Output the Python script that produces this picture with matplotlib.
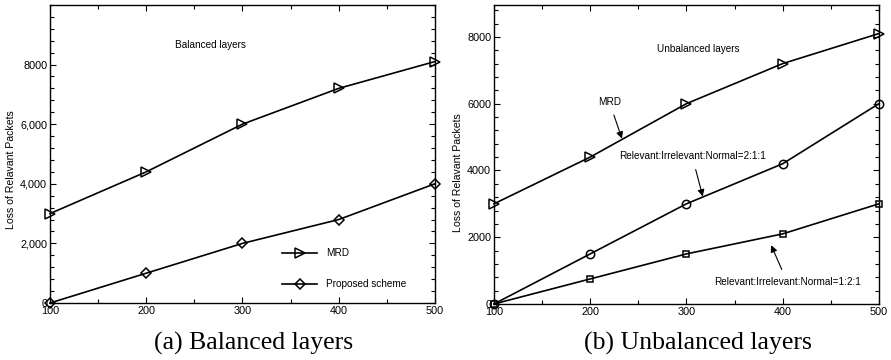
import numpy as np
import matplotlib
matplotlib.use('Agg')
import matplotlib.pyplot as plt
from matplotlib.ticker import MultipleLocator, FixedLocator, FixedFormatter

# data
x_vals = [100, 200, 300, 400, 500]
mrd_balanced = [3000, 4400, 6000, 7200, 8100]
proposed_balanced = [0, 1000, 2000, 2800, 4000]
mrd_unbalanced = [3000, 4400, 6000, 7200, 8100]
ratio_211 = [0, 1500, 3000, 4200, 6000]
ratio_121 = [0, 750, 1500, 2100, 3000]

left_ytick_labels = ['0', '2,000', '4,000', '6,000', '8000']
right_ytick_labels = ['0', '2000', '4000', '6000', '8000']
ylabel = 'Loss of Relavant Packets'

plt.rcParams['font.family'] = ['Liberation Sans', 'DejaVu Sans']

fig = plt.figure(figsize=(8.91, 3.6), dpi=100)
ax1 = fig.add_axes([0.0561, 0.1583, 0.432, 0.828])
ax2 = fig.add_axes([0.5544, 0.1556, 0.432, 0.830])

lw = 1.2
fs = 7.2


def style_axis(ax, ymax, labels):
    ax.set_xlim(100, 500)
    ax.set_ylim(0, ymax)
    ax.xaxis.set_major_locator(FixedLocator(x_vals))
    ax.xaxis.set_minor_locator(MultipleLocator(50))
    ax.yaxis.set_major_locator(FixedLocator([0, 2000, 4000, 6000, 8000]))
    ax.yaxis.set_major_formatter(FixedFormatter(labels))
    ax.yaxis.set_minor_locator(MultipleLocator(400))
    ax.tick_params(which='both', direction='in', top=True, right=True,
                   labelsize=7.8, pad=2, width=0.8)
    ax.tick_params(which='major', length=4)
    ax.tick_params(which='minor', length=3)
    for s in ax.spines.values():
        s.set_linewidth(1.0)
    ax.set_ylabel(ylabel, fontsize=7.6)


# (a) balanced
ax1.plot(x_vals, mrd_balanced, color='black', lw=lw, marker='>', ms=7,
         mfc='none', mew=1.1, label='MRD', clip_on=False)
ax1.plot(x_vals, proposed_balanced, color='black', lw=lw, marker='D', ms=5.5,
         mfc='none', mew=1.1, label='Proposed scheme', clip_on=False)
style_axis(ax1, 10000, left_ytick_labels)
ax1.yaxis.set_label_coords(-0.088, 0.446)
ax1.text(267, 8640, 'Balanced layers', fontsize=fs, ha='center', va='center')
ax1.legend(loc='center left', bbox_to_anchor=(0.603, 0.115), frameon=False,
           fontsize=fs, handlelength=3.5, labelspacing=2.1, handletextpad=0.9,
           borderpad=0, borderaxespad=0)

# (b) unbalanced
ax2.plot(x_vals, mrd_unbalanced, color='black', lw=lw, marker='>', ms=7,
         mfc='none', mew=1.1, clip_on=False)
ax2.plot(x_vals, ratio_211, color='black', lw=lw, marker='o', ms=6,
         mfc='none', mew=1.1, clip_on=False)
ax2.plot(x_vals, ratio_121, color='black', lw=lw, marker='s', ms=5,
         mfc='none', mew=1.1, clip_on=False)
style_axis(ax2, 8950, right_ytick_labels)
ax2.yaxis.set_label_coords(-0.080, 0.44)
ax2.text(312, 7640, 'Unbalanced layers', fontsize=fs, ha='center', va='center')

arrow = dict(arrowstyle='-|>', color='black', lw=0.8, mutation_scale=10,
             shrinkA=4, shrinkB=0)
ax2.annotate('MRD', xy=(233, 4950), xytext=(220, 6050), fontsize=fs,
             ha='center', va='center', arrowprops=arrow)
ax2.annotate('Relevant:Irrelevant:Normal=2:1:1', xy=(317, 3220),
             xytext=(306, 4420), fontsize=fs, ha='center', va='center',
             arrowprops=arrow)
ax2.annotate('Relevant:Irrelevant:Normal=1:2:1', xy=(388, 1760),
             xytext=(405, 650), fontsize=fs, ha='center', va='center',
             arrowprops=arrow)

fig.text(0.2845, 0.047, '(a) Balanced layers', fontsize=18.5,
         family=['Liberation Serif', 'DejaVu Serif'], ha='center', va='center')
fig.text(0.783, 0.047, '(b) Unbalanced layers', fontsize=18.5,
         family=['Liberation Serif', 'DejaVu Serif'], ha='center', va='center')

fig.savefig('out.png', dpi=100)
